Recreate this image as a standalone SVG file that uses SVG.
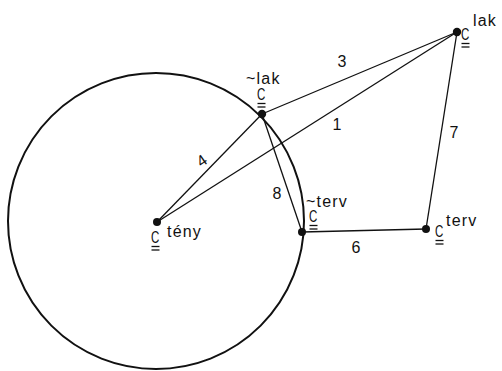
<svg xmlns="http://www.w3.org/2000/svg" width="502" height="371" viewBox="0 0 502 371">
<style>
.bg{fill:#fff}
.circ{fill:none;stroke:#111;stroke-width:2}
.ln{stroke:#111;stroke-width:1.3;fill:none}
.dot{fill:#111}
.t{font-family:"Liberation Sans",Arial,sans-serif;fill:#111;font-size:16px;letter-spacing:1.2px}
.n{font-family:"Liberation Sans",Arial,sans-serif;fill:#111;font-size:16px}
.c{font-family:"Liberation Sans",Arial,sans-serif;fill:#111;font-size:16px}
.u{stroke:#111;stroke-width:1.3}
</style>
<defs>
<g id="cc">
<text class="c" x="0" y="0" transform="scale(0.72,1)">C</text>
<line class="u" x1="0.5" y1="3.5" x2="8.5" y2="3.5"/>
<line class="u" x1="0.5" y1="7" x2="8.5" y2="7"/>
</g>
</defs>
<rect class="bg" width="502" height="371"/>
<circle class="circ" cx="156" cy="221" r="148"/>
<g id="connectors">
<line class="ln" x1="157" y1="222" x2="262" y2="114"/>
<line class="ln" x1="157" y1="222" x2="457" y2="32"/>
<line class="ln" x1="262" y1="114" x2="457" y2="32"/>
<line class="ln" x1="262" y1="114" x2="302" y2="232"/>
<line class="ln" x1="302" y1="232" x2="426" y2="229"/>
<line class="ln" x1="426" y1="229" x2="457" y2="32"/>
<text class="n" x="202" y="166" text-anchor="middle" transform="rotate(-35 202 161)">4</text>
<text class="n" x="337" y="130" text-anchor="middle">1</text>
<text class="n" x="342" y="67" text-anchor="middle">3</text>
<text class="n" x="277" y="199" text-anchor="middle">8</text>
<text class="n" x="356" y="253" text-anchor="middle">6</text>
<text class="n" x="454" y="138" text-anchor="middle">7</text>
</g>
<g id="c-teny">
<circle class="dot" cx="157" cy="222" r="4"/>
<use href="#cc" x="151" y="243"/>
<text class="t" x="167" y="237">tény</text>
</g>
<g id="c-lak-tilde">
<circle class="dot" cx="262" cy="114" r="4.2"/>
<use href="#cc" x="257" y="100"/>
<text class="t" x="246" y="84">~lak</text>
</g>
<g id="c-lak">
<circle class="dot" cx="457" cy="32" r="4.2"/>
<use href="#cc" x="461" y="40"/>
<text class="t" x="473" y="26">lak</text>
</g>
<g id="c-terv-tilde">
<circle class="dot" cx="302" cy="232" r="4"/>
<use href="#cc" x="309" y="222"/>
<text class="t" x="306" y="207">~terv</text>
</g>
<g id="c-terv">
<circle class="dot" cx="426" cy="229" r="4"/>
<use href="#cc" x="435" y="237"/>
<text class="t" x="446" y="226">terv</text>
</g>
</svg>
